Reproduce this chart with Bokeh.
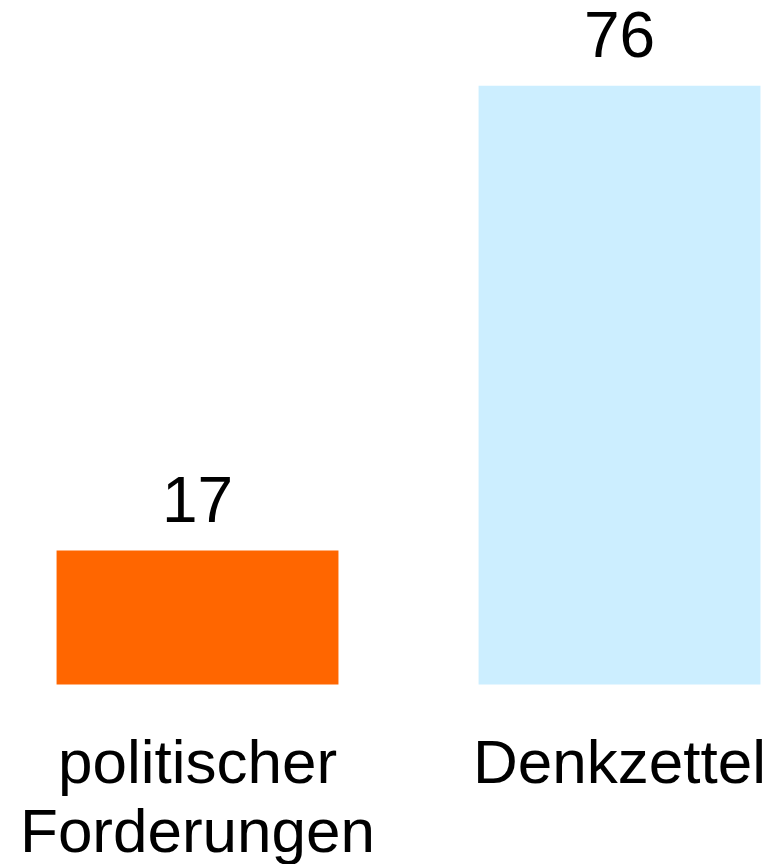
from bokeh.plotting import figure
from bokeh.models import ColumnDataSource, Range1d
from bokeh.core.properties import value
from bokeh.embed import file_html
from bokeh.resources import INLINE

categories = ["politischer\nForderungen", "Denkzettel"]
values = [17, 76]
colors = ["#ff6600", "#cceeff"]
value_labels = ["17", "76"]

xs = list(range(len(categories)))
src = ColumnDataSource(dict(x=xs, top=values, color=colors, lab=value_labels, cat=categories, zero=[0] * len(xs)))

p = figure(width=766, height=864, output_backend="svg", toolbar_location=None,
           x_range=Range1d(-0.4479, 1.3483), y_range=Range1d(-22.84, 85.79),
           min_border=0, min_border_left=8, min_border_right=0, min_border_top=8, min_border_bottom=0)
p.axis.visible = False
p.grid.visible = False
p.outline_line_color = None
p.background_fill_color = "white"
p.border_fill_color = "white"

p.vbar(x="x", top="top", bottom=0, width=0.668, color="color", line_color=None, source=src)

p.text(x="x", y="top", text="lab", source=src, text_align="center", text_baseline="alphabetic",
       y_offset=-51, text_font=value("Liberation Sans"), text_font_size="64px", text_color="black")

p.text(x="x", y="zero", text="cat", source=src, text_align="center", text_baseline="top",
       y_offset=42, text_font=value("Liberation Sans"), text_font_size="62px", text_color="black",
       text_line_height=1.0)

open("out.html", "w").write(file_html(p, INLINE))
